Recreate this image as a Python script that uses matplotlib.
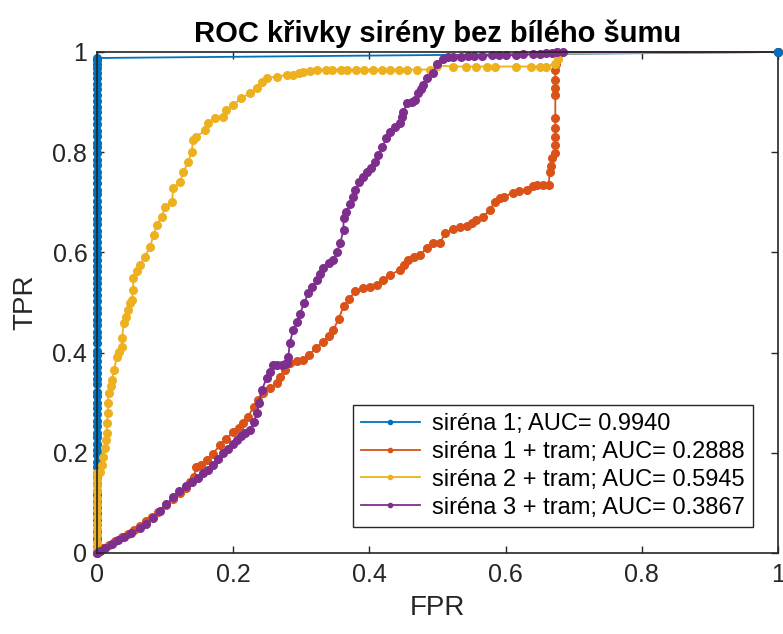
import matplotlib
matplotlib.use('Agg')
from matplotlib import pyplot as plt

plt.rcParams['font.family'] = ['Liberation Sans', 'DejaVu Sans']

# MATLAB default colour order
colors = ['#0072BD', '#D95319', '#EDB120', '#7E2F8E']
labels = ['siréna 1; AUC= 0.9940',
          'siréna 1 + tram; AUC= 0.2888',
          'siréna 2 + tram; AUC= 0.5945',
          'siréna 3 + tram; AUC= 0.3867']

# siréna 1 (vertical at FPR = 0, then straight to (1,1))
s1_tpr = [0.000, 0.012, 0.025, 0.031, 0.044, 0.058, 0.066, 0.079, 0.090, 0.102,
          0.115, 0.123, 0.137, 0.149, 0.160, 0.172, 0.181, 0.196, 0.205, 0.218,
          0.231, 0.240, 0.254, 0.263, 0.277, 0.289, 0.300, 0.314, 0.322, 0.337,
          0.348, 0.359, 0.371, 0.383, 0.395, 0.404, 0.420, 0.431, 0.442, 0.455,
          0.466, 0.479, 0.488, 0.503, 0.515, 0.526, 0.538, 0.549, 0.562, 0.573,
          0.585, 0.596, 0.608, 0.620, 0.633, 0.642, 0.656, 0.667, 0.680, 0.691,
          0.703, 0.716, 0.725, 0.738, 0.750, 0.761, 0.775, 0.784, 0.798, 0.810,
          0.819, 0.833, 0.842, 0.857, 0.868, 0.880, 0.891, 0.903, 0.914, 0.926,
          0.937, 0.948, 0.959, 0.968, 0.977, 0.985, 0.988, 1.000]
s1_fpr = [0.0] * (len(s1_tpr) - 1) + [1.0]

# siréna 1 + tram
s1t_fpr = [0, 0.004, 0.009, 0.018, 0.027, 0.036, 0.045, 0.054, 0.063, 0.072,
           0.081, 0.090, 0.102, 0.112, 0.122, 0.130, 0.137, 0.142, 0.146, 0.152,
           0.161, 0.170, 0.181, 0.190, 0.200, 0.208, 0.215, 0.222, 0.230, 0.237,
           0.244, 0.254, 0.264, 0.269, 0.276, 0.283, 0.293, 0.303, 0.312, 0.322,
           0.332, 0.340, 0.347, 0.355, 0.362, 0.370, 0.379, 0.391, 0.401, 0.411,
           0.420, 0.430, 0.445, 0.451, 0.457, 0.465, 0.474, 0.484, 0.494, 0.504,
           0.511, 0.523, 0.533, 0.543, 0.550, 0.557, 0.567, 0.577, 0.584, 0.592,
           0.597, 0.611, 0.620, 0.631, 0.640, 0.646, 0.655, 0.663, 0.665, 0.666,
           0.668, 0.673, 0.673, 0.673, 0.673, 0.673, 0.673, 0.673, 0.673, 0.673,
           0.674, 0.675, 1.0]
s1t_tpr = [0, 0.004, 0.009, 0.016, 0.024, 0.031, 0.038, 0.045, 0.053, 0.063,
           0.072, 0.082, 0.096, 0.108, 0.120, 0.130, 0.142, 0.152, 0.172, 0.176,
           0.186, 0.198, 0.216, 0.228, 0.242, 0.250, 0.259, 0.272, 0.292, 0.306,
           0.319, 0.329, 0.339, 0.352, 0.365, 0.379, 0.383, 0.385, 0.396, 0.410,
           0.422, 0.433, 0.445, 0.468, 0.492, 0.507, 0.522, 0.528, 0.531, 0.535,
           0.545, 0.555, 0.565, 0.575, 0.585, 0.591, 0.595, 0.608, 0.618, 0.619,
           0.638, 0.646, 0.650, 0.653, 0.658, 0.665, 0.671, 0.685, 0.701, 0.708,
           0.711, 0.719, 0.722, 0.725, 0.732, 0.735, 0.735, 0.735, 0.761, 0.772,
           0.788, 0.798, 0.815, 0.831, 0.848, 0.868, 0.914, 0.928, 0.945, 0.964,
           0.977, 1.0, 1.0]

# siréna 2 + tram
s2t_fpr = [0, 0, 0, 0, 0, 0, 0, 0, 0, 0, 0, 0, 0, 0,
           0.004, 0.007, 0.009, 0.011, 0.013, 0.014, 0.015, 0.016, 0.016, 0.017,
           0.020, 0.022, 0.025, 0.029, 0.033, 0.036, 0.037, 0.039, 0.043, 0.046,
           0.048, 0.051, 0.053, 0.053, 0.058, 0.063, 0.070, 0.078, 0.083, 0.088,
           0.095, 0.100, 0.110, 0.112, 0.122, 0.127, 0.134, 0.139, 0.141, 0.146,
           0.159, 0.163, 0.173, 0.185, 0.190, 0.200, 0.212, 0.225, 0.235, 0.242,
           0.249, 0.264, 0.279, 0.288, 0.296, 0.303, 0.313, 0.323, 0.336, 0.345,
           0.358, 0.367, 0.380, 0.392, 0.405, 0.418, 0.430, 0.443, 0.455, 0.470,
           0.489, 0.499, 0.523, 0.542, 0.557, 0.572, 0.585, 0.615, 0.637, 0.650,
           0.660, 0.673, 0.677, 0.680, 1.0]
s2t_tpr = [0, 0.010, 0.022, 0.035, 0.048, 0.060, 0.072, 0.085, 0.098, 0.110,
           0.123, 0.135, 0.148, 0.159,
           0.162, 0.175, 0.192, 0.210, 0.225, 0.239, 0.260, 0.280, 0.300, 0.319,
           0.333, 0.345, 0.365, 0.392, 0.402, 0.412, 0.430, 0.459, 0.472, 0.485,
           0.498, 0.505, 0.525, 0.548, 0.562, 0.575, 0.591, 0.611, 0.635, 0.655,
           0.671, 0.691, 0.701, 0.728, 0.741, 0.761, 0.781, 0.801, 0.824, 0.831,
           0.844, 0.858, 0.868, 0.871, 0.884, 0.894, 0.908, 0.918, 0.928, 0.941,
           0.948, 0.951, 0.954, 0.955, 0.958, 0.961, 0.963, 0.965, 0.965, 0.965,
           0.965, 0.965, 0.965, 0.965, 0.965, 0.965, 0.965, 0.965, 0.965, 0.965,
           0.965, 0.973, 0.971, 0.971, 0.971, 0.971, 0.971, 0.971, 0.971, 0.971,
           0.971, 0.977, 0.987, 0.997, 1.0]

# siréna 3 + tram
s3t_fpr = [0, 0.004, 0.012, 0.022, 0.031, 0.040, 0.050, 0.063, 0.072, 0.082,
           0.092, 0.102, 0.112, 0.121, 0.130, 0.140, 0.148, 0.156, 0.163, 0.170,
           0.178, 0.185, 0.193, 0.200, 0.205, 0.212, 0.218, 0.225, 0.230, 0.235,
           0.238, 0.242, 0.249, 0.254, 0.259, 0.265, 0.271, 0.276, 0.279, 0.281,
           0.283, 0.288, 0.293, 0.298, 0.304, 0.310, 0.316, 0.323, 0.328, 0.332,
           0.340, 0.347, 0.352, 0.357, 0.362, 0.362, 0.365, 0.372, 0.376, 0.379,
           0.385, 0.391, 0.397, 0.403, 0.408, 0.413, 0.419, 0.425, 0.430, 0.438,
           0.445, 0.448, 0.450, 0.455, 0.462, 0.467, 0.472, 0.476, 0.479, 0.484,
           0.494, 0.499, 0.508, 0.516, 0.523, 0.535, 0.545, 0.553, 0.565, 0.580,
           0.590, 0.601, 0.615, 0.625, 0.640, 0.650, 0.660, 0.668, 0.675, 0.685,
           1.0]
s3t_tpr = [0, 0.003, 0.010, 0.018, 0.025, 0.031, 0.039, 0.049, 0.058, 0.070,
           0.084, 0.097, 0.112, 0.124, 0.133, 0.142, 0.150, 0.159, 0.166, 0.176,
           0.188, 0.199, 0.207, 0.218, 0.226, 0.233, 0.240, 0.246, 0.262, 0.279,
           0.300, 0.325, 0.349, 0.362, 0.375, 0.375, 0.375, 0.377, 0.379, 0.392,
           0.419, 0.445, 0.462, 0.478, 0.498, 0.518, 0.530, 0.545, 0.556, 0.568,
           0.578, 0.585, 0.600, 0.618, 0.645, 0.668, 0.680, 0.696, 0.710, 0.724,
           0.740, 0.751, 0.760, 0.768, 0.781, 0.794, 0.811, 0.828, 0.841, 0.850,
           0.858, 0.870, 0.881, 0.898, 0.901, 0.904, 0.918, 0.926, 0.934, 0.948,
           0.958, 0.977, 0.987, 0.989, 0.990, 0.990, 0.991, 0.992, 0.992, 0.993,
           0.993, 0.994, 0.994, 0.995, 0.995, 0.996, 0.997, 0.998, 1.0, 1.0,
           1.0]

series = [(s1_fpr, s1_tpr), (s1t_fpr, s1t_tpr), (s2t_fpr, s2t_tpr), (s3t_fpr, s3t_tpr)]

fig = plt.figure(figsize=(7.83, 6.34), dpi=100)
ax = fig.add_axes([0.1239, 0.1278, 0.8697, 0.7902])

for (fpr, tpr), c, lab in zip(series, colors, labels):
    # MATLAB does not clip markers sitting on the axes border
    ax.plot(fpr, tpr, '.-', color=c, label=lab, linewidth=1.3, markersize=11,
            clip_on=False)

# blue end point shows on top in the original
ax.plot(s1_fpr[-1:], s1_tpr[-1:], '.', color=colors[0], markersize=11,
        clip_on=False, zorder=5)

ax.set_xlim(0, 1)
ax.set_ylim(0, 1)
ax.set_xticks([0, 0.2, 0.4, 0.6, 0.8, 1])
ax.set_xticklabels(['0', '0.2', '0.4', '0.6', '0.8', '1'])
ax.set_yticks([0, 0.2, 0.4, 0.6, 0.8, 1])
ax.set_yticklabels(['0', '0.2', '0.4', '0.6', '0.8', '1'])
ax.tick_params(direction='in', top=True, right=True, length=5, width=1,
               labelsize=18, colors='#262626', pad=7)
for sp in ax.spines.values():
    sp.set_color('#262626')
    sp.set_linewidth(1.2)

ax.set_xlabel('FPR', fontsize=20, color='#262626', labelpad=6)
ax.set_ylabel('TPR', fontsize=20, color='#262626', labelpad=10)
ax.set_title('ROC křivky sirény bez bílého šumu', fontsize=21, fontweight='bold', pad=7)

leg = ax.legend(loc='lower right', bbox_to_anchor=(0.963, 0.052), fontsize=17,
                fancybox=False, edgecolor='#262626', framealpha=1,
                handlelength=2.5, labelspacing=0.25, borderpad=0.35,
                handletextpad=0.5, borderaxespad=0, markerscale=0.55)
leg.get_frame().set_linewidth(1.0)

plt.savefig('out.png', dpi=100)
